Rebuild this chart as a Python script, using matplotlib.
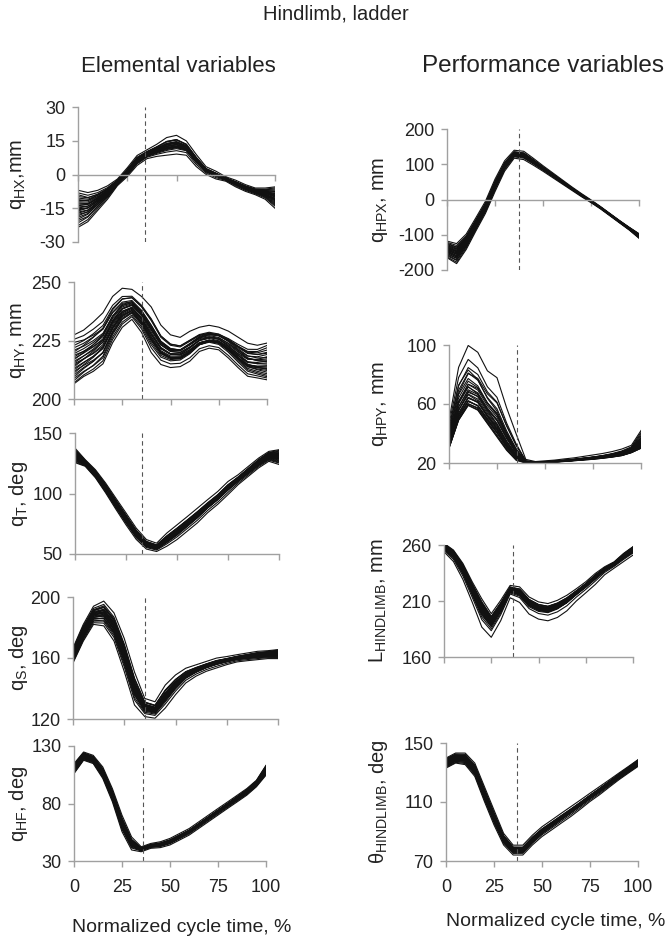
import matplotlib
matplotlib.use('Agg')
import matplotlib.pyplot as plt
import numpy as np

plt.rcParams['font.family'] = ['Liberation Sans', 'DejaVu Sans']
plt.rcParams['mathtext.fontset'] = 'custom'
plt.rcParams['mathtext.rm'] = 'Liberation Sans'
plt.rcParams['axes.unicode_minus'] = False

# normalized cycle time, %
TIME = [0, 5, 10, 15, 20, 25, 30, 35, 40, 45, 50, 55, 60, 65, 70, 75, 80, 85, 90, 95, 100]

# lower / upper edge of the bundle of step cycles
qhx_lo = [-23.5, -21, -16, -11, -5, -1, 4, 7, 8, 8.5, 9, 8.5, 3.5, 0, -2, -3, -5.5, -7.5, -9, -11, -15]
qhx_hi = [-7, -8, -7, -5, -2, 3, 8.5, 11, 13.5, 16.5, 17.5, 15, 9, 3.5, 1.5, -1, -2.5, -4.5, -6, -6, -5.5]

qhy_lo = [206.5, 209.6, 211.8, 215, 224, 230.6, 234, 228.4, 219.8, 214.7, 213.4, 213.8, 216.1, 220.3,
          221.7, 221, 217.5, 213.4, 209.7, 209, 208.2]
qhy_hi = [227.4, 229.5, 233, 237, 244, 247.5, 247, 244, 239.6, 231.8, 227.6, 226.5, 229.1, 230.8,
          231.6, 230.8, 229.1, 226.5, 223.9, 223, 223.9]

qt_lo = [125.5, 122.5, 113, 100.5, 87, 74, 62, 54, 52, 56.3, 61.8, 68.7, 75.6, 84, 91, 99, 107.3,
         114.2, 121.1, 126.6, 124]
qt_hi = [137.5, 128, 119.7, 108.7, 96.3, 84, 71.5, 62, 59, 67.4, 74.2, 81, 88, 95, 101.8, 110, 115.6,
         122.5, 129.3, 134.8, 136.2]

qs_lo = [156.7, 171, 182, 181, 171, 151, 129, 121.5, 120.4, 127, 135.8, 143.5, 148, 151.2, 153.4,
         155.6, 157.4, 158.2, 158.9, 159.6, 159.6]
qs_hi = [166.6, 182, 194, 197.4, 189.7, 173, 151, 133.6, 131.4, 142.4, 149, 153.4, 155.6, 157.8, 160,
         161, 162.2, 163.3, 164.4, 164.8, 165.5]

qhf_lo = [106, 117.6, 114.7, 101.7, 81.4, 55.4, 39.5, 38, 41, 41.6, 43.9, 48.2, 52.5, 58.3, 64.1,
          69.9, 75.7, 81.4, 87.2, 94.5, 104.6]
qhf_hi = [114.7, 124.8, 121.9, 111.8, 93, 69.9, 51, 42.4, 45.3, 46.8, 49.7, 54, 58.3, 64.1, 69.9,
          75.7, 81.4, 87.2, 93, 100.2, 113.2]

qhpx_lo = [-165, -182, -142, -90, -40, 22, 80, 117, 113, 97, 80, 62, 44, 26, 8, -9, -27, -47, -67, -87, -110]
qhpx_hi = [-118, -125, -98, -52, -5, 58, 110, 140, 137, 117, 96, 76, 56, 36, 17, -1, -20, -40, -60, -79, -97]

qhpy_lo = [30, 49, 59, 55.8, 46.7, 37.6, 28.6, 21.8, 20, 20, 20.3, 20.6, 21, 21.5, 22, 22.5, 23.2, 24,
           25, 27, 30]
qhpy_hi = [49, 85, 100, 95.5, 83, 78.5, 58, 40, 22.5, 21, 21.5, 22, 22.8, 23.5, 24.5, 25.5, 26.5, 27.8,
           29.5, 32, 42]

limb_len_lo = [254, 245, 228.7, 207.8, 185.4, 176.4, 191.3, 212.2, 207.8, 197.3, 192.8, 191.3, 194.3,
               200.3, 209.3, 216.7, 224.2, 233.1, 239.1, 245, 251]
limb_len_hi = [261.5, 255.5, 243.6, 227, 212, 198.8, 210.7, 224, 222.7, 213.7, 209.3, 207.8, 210.7,
               215.2, 221, 227.2, 234.6, 240.6, 245, 252.5, 258.5]

limb_ang_lo = [133, 136.4, 135.3, 127.3, 110.3, 94.4, 80.8, 74, 74, 80.8, 86.5, 91, 95.6, 100.1, 105.1,
               110.3, 114.9, 120, 125, 129.6, 134.1]
limb_ang_hi = [139.8, 143.2, 143.2, 136.4, 120.5, 104.6, 88.8, 80.8, 80.8, 87.6, 93.3, 97.8, 102.4,
               106.9, 111.4, 116, 120.5, 125, 129.6, 134.1, 138.7]

# where each cycle sits inside the bundle at the start, middle and end of the cycle
W_START = [0.00, 0.05, 0.12, 0.18, 0.22, 0.27, 0.31, 0.35, 0.38, 0.41, 0.44, 0.47, 0.50, 0.52,
           0.55, 0.58, 0.60, 0.63, 0.66, 0.69, 0.72, 0.75, 0.79, 0.83, 0.88, 0.93, 1.00]
W_MID = [0.02, 0.30, 0.55, 0.20, 0.62, 0.40, 0.70, 0.15, 0.50, 0.33, 0.78, 0.45, 0.25, 0.66,
         0.38, 0.82, 0.48, 0.58, 0.28, 0.52, 0.88, 0.42, 0.60, 0.72, 0.35, 0.68, 0.98]
W_END = [0.00, 0.10, 0.35, 0.60, 0.15, 0.45, 0.25, 0.70, 0.40, 0.55, 0.30, 0.65, 0.48, 0.20,
         0.75, 0.38, 0.85, 0.52, 0.42, 0.80, 0.58, 0.95, 0.62, 0.68, 0.90, 0.78, 1.00]

XTICKS = [0, 25, 50, 75, 100]

W, H = 672, 939

# panel: data, y label, y ticks, pixel box (x0, x100, ytop, ybottom), dashed line x, zero axis, skew, label x
panels = [
    (qhx_lo, qhx_hi, r'q$_{\mathregular{HX}}$,mm', [-30, -15, 0, 15, 30], (78, 275, 107, 242), 34, True, 1.0, 18),
    (qhy_lo, qhy_hi, r'q$_{\mathregular{HY}}$, mm', [200, 225, 250], (74, 267, 282, 399), 35, False, 1.3, 18),
    (qt_lo, qt_hi, r'q$_{\mathregular{T}}$, deg', [50, 100, 150], (75, 279, 433, 554), 33, False, 1.0, 19),
    (qs_lo, qs_hi, r'q$_{\mathregular{S}}$, deg', [120, 160, 200], (73, 278, 597, 719), 35, False, 1.0, 19),
    (qhf_lo, qhf_hi, r'q$_{\mathregular{HF}}$, deg', [30, 80, 130], (74, 266, 746, 861), 36, False, 1.0, 18),
    (qhpx_lo, qhpx_hi, r'q$_{\mathregular{HPX}}$, mm', [-200, -100, 0, 100, 200], (447, 639, 129, 270), 37.5, True, 1.0, 380),
    (qhpy_lo, qhpy_hi, r'q$_{\mathregular{HPY}}$, mm', [20, 60, 100], (449, 641, 345, 463), 35.5, False, 2.2, 380),
    (limb_len_lo, limb_len_hi, r'L$_{\mathregular{HINDLIMB}}$, mm', [160, 210, 260], (444, 633, 545, 657), 36.3, False, 0.6, 378),
    (limb_ang_lo, limb_ang_hi, r'θ$_{\mathregular{HINDLIMB}}$, deg', [70, 110, 150], (446, 638, 743, 861), 37, False, 1.0, 378),
]

fig = plt.figure(figsize=(W / 100, H / 100), dpi=100)

t = np.array(TIME) / 100.0
for i, (lo, hi, ylab, yt, box, xd, zero_axis, skew, lab_x) in enumerate(panels):
    x0, x1, ytop, ybot = box
    ax = fig.add_axes([x0 / W, 1 - ybot / H, (x1 - x0) / W, (ybot - ytop) / H])
    lo = np.array(lo)
    hi = np.array(hi)
    for ws, wm, we in zip(W_START, W_MID, W_END):
        w = ws * (1 - t) ** 2 + 2 * wm * t * (1 - t) + we * t ** 2
        w = np.clip(w, 0, 1) ** skew
        ax.plot(TIME, lo + w * (hi - lo), color='#111111', lw=0.8, solid_joinstyle='round')
    ax.axvline(xd, color='#555555', lw=0.8, ls=(0, (4, 3)))

    ax.set_xlim(0, 100)
    ax.set_ylim(yt[0], yt[-1])
    ax.set_xticks(XTICKS)
    ax.set_yticks(yt)
    for s in ['top', 'right']:
        ax.spines[s].set_visible(False)
    for s in ['left', 'bottom']:
        ax.spines[s].set_color('#a0a0a0')
        ax.spines[s].set_linewidth(1.0)
    if zero_axis:
        ax.spines['bottom'].set_position(('data', 0))
    ax.tick_params(axis='both', colors='#a0a0a0', length=4, width=1.0, labelcolor='#222222', labelsize=13)
    ax.tick_params(axis='y', pad=5)
    ax.tick_params(axis='x', pad=9)
    if i not in (4, 8):
        ax.set_xticklabels([])
    ax.patch.set_alpha(0)
    fig.text(lab_x / W, 1 - (ytop + ybot) / 2 / H, ylab, rotation=90, ha='center', va='center',
             fontsize=14.5, color='#222222')

fig.text(336 / W, 1 - 14 / H, 'Hindlimb, ladder', ha='center', va='center', fontsize=14.5, color='#222222')
fig.text(178 / W, 1 - 66 / H, 'Elemental variables', ha='center', va='center', fontsize=16, color='#222222')
fig.text(543 / W, 1 - 66 / H, 'Performance variables', ha='center', va='center', fontsize=17.5, color='#222222')
fig.text(182 / W, 1 - 927 / H, 'Normalized cycle time, %', ha='center', va='center', fontsize=14, color='#222222')
fig.text(556 / W, 1 - 922 / H, 'Normalized cycle time, %', ha='center', va='center', fontsize=14, color='#222222')

fig.savefig('out.png', dpi=100)
